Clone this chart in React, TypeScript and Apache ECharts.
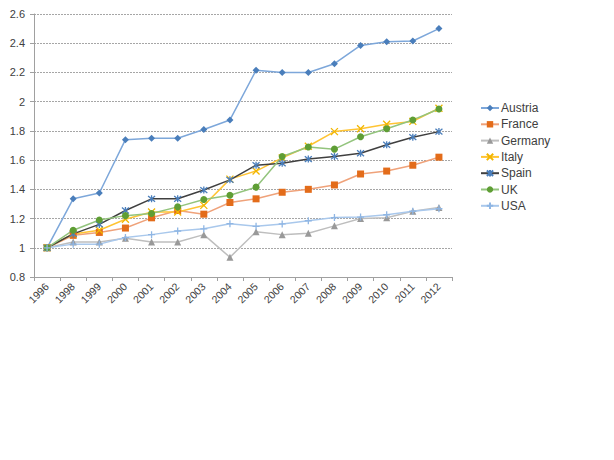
import React, { useEffect, useRef } from "react";
import * as echarts from "echarts";

const categories = ["1996", "1998", "1999", "2000", "2001", "2002", "2003", "2004", "2005", "2006", "2007", "2008", "2009", "2010", "2011", "2012"];

const austria = [1.0, 1.335, 1.375, 1.74, 1.75, 1.75, 1.81, 1.875, 2.215, 2.2, 2.2, 2.26, 2.385, 2.41, 2.415, 2.5];
const france = [1.0, 1.085, 1.105, 1.135, 1.205, 1.255, 1.23, 1.31, 1.335, 1.38, 1.4, 1.43, 1.505, 1.525, 1.565, 1.62];
const germany = [1.0, 1.04, 1.04, 1.065, 1.04, 1.04, 1.09, 0.935, 1.11, 1.09, 1.1, 1.15, 1.2, 1.205, 1.25, 1.275];
const italy = [1.0, 1.095, 1.12, 1.195, 1.245, 1.245, 1.29, 1.47, 1.525, 1.615, 1.695, 1.795, 1.815, 1.845, 1.865, 1.955];
const spain = [1.0, 1.095, 1.16, 1.255, 1.335, 1.335, 1.395, 1.465, 1.565, 1.578, 1.607, 1.625, 1.647, 1.705, 1.757, 1.795];
const uk = [1.0, 1.12, 1.19, 1.22, 1.235, 1.28, 1.33, 1.36, 1.415, 1.625, 1.69, 1.675, 1.76, 1.815, 1.875, 1.95];
const usa = [1.0, 1.025, 1.025, 1.07, 1.09, 1.115, 1.13, 1.165, 1.147, 1.163, 1.185, 1.207, 1.21, 1.226, 1.25, 1.267];

const yTicks = { min: 0.8, max: 2.6, interval: 0.2 };

const X_PATH = "path://M0,0L10,10M10,0L0,10";
const STAR_PATH = "path://M0,0L10,10M10,0L0,10M5,-1L5,11";
const PLUS_PATH = "path://M5,0L5,10M0,5L10,5";

export default function App() {
  const ref = useRef<HTMLDivElement>(null);
  useEffect(() => {
    if (!ref.current) return;
    const chart = echarts.init(ref.current, null, { renderer: "svg" });
    const mk = (
      name: string,
      data: number[],
      lineColor: string,
      markColor: string,
      symbol: string,
      size: number,
      stroked = false
    ) => ({
      name,
      type: "line",
      data,
      symbol,
      symbolSize: size,
      showSymbol: true,
      lineStyle: { color: lineColor, width: 1.5 },
      itemStyle: stroked
        ? { color: markColor, borderColor: markColor, borderWidth: 1.3 }
        : { color: markColor, borderWidth: 0 },
      emphasis: { disabled: true },
    });
    chart.setOption({
      animation: false,
      textStyle: { fontFamily: "Liberation Sans, Arial, sans-serif" },
      grid: { left: 34, right: 162, top: 14, bottom: 183, containLabel: false },
      legend: {
        orient: "vertical",
        left: 475,
        top: 97,
        itemWidth: 18,
        itemHeight: 8,
        itemGap: 4.3,
        textStyle: { fontSize: 12, color: "#404040", padding: [0, 0, 0, -3] },
        data: ["Austria", "France", "Germany", "Italy", "Spain", "UK", "USA"],
      },
      xAxis: {
        type: "category",
        data: categories,
        boundaryGap: true,
        axisLine: { lineStyle: { color: "#A0A0A0" } },
        axisTick: { show: true, length: 4, lineStyle: { color: "#A0A0A0" } },
        axisLabel: { rotate: 45, fontSize: 10.5, color: "#404040", margin: 8 },
        splitLine: { show: false },
      },
      yAxis: {
        type: "value",
        min: yTicks.min,
        max: yTicks.max,
        interval: yTicks.interval,
        axisLine: { show: true, lineStyle: { color: "#A0A0A0" } },
        axisTick: { show: true, length: 4, lineStyle: { color: "#A0A0A0" } },
        axisLabel: {
          fontSize: 11,
          color: "#404040",
          margin: 9,
          formatter: (v: number) => String(Math.round(v * 10) / 10),
        },
        splitLine: { show: true, lineStyle: { color: "#A6A6A6", type: [2, 1], width: 1 } },
      },
      series: [
        mk("Austria", austria, "#7DA7DA", "#4A7EBB", "diamond", 7),
        mk("France", france, "#EFA27A", "#E36C1A", "rect", 7),
        mk("Germany", germany, "#BEBEBE", "#999999", "triangle", 7),
        mk("Italy", italy, "#FFC433", "#F2B600", X_PATH, 7, true),
        mk("Spain", spain, "#404040", "#4A7EBB", STAR_PATH, 7, true),
        mk("UK", uk, "#93C47D", "#5F9E35", "circle", 7),
        mk("USA", usa, "#A9C8EC", "#8FB6E4", PLUS_PATH, 7, true),
      ],
    });
    return () => chart.dispose();
  }, []);
  return <div ref={ref} style={{ position: "absolute", left: 0, top: 0, width: 614, height: 460 }} />;
}
